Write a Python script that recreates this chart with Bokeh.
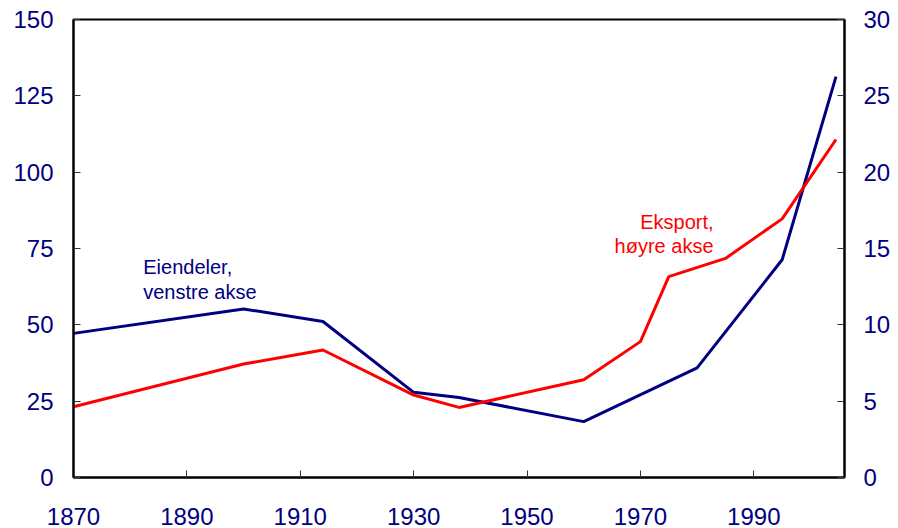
from bokeh.plotting import figure
from bokeh.models import Range1d, LinearAxis, FixedTicker, Label
from bokeh.embed import file_html
from bokeh.resources import INLINE

# Eiendeler (venstre akse)
years_assets = [1870, 1900, 1914, 1930, 1938, 1960, 1980, 1995, 2004.5]
assets = [47.2, 55.2, 51.1, 27.9, 26.2, 18.3, 35.9, 71.3, 131.3]

# Eksport (høyre akse)
years_export = [1870, 1900, 1914, 1930, 1938, 1960, 1970, 1975, 1985, 1995, 2004.5]
export = [4.63, 7.43, 8.35, 5.4, 4.59, 6.4, 8.9, 13.16, 14.35, 16.94, 22.14]

x_ticks = [1870, 1890, 1910, 1930, 1950, 1970, 1990]
left_ticks = [0, 25, 50, 75, 100, 125, 150]
right_ticks = [0, 5, 10, 15, 20, 25, 30]

NAVY = "#000080"
RED = "#ff0000"
FONT = "Liberation Sans"

p = figure(width=898, height=528, output_backend="svg", toolbar_location=None,
           x_range=Range1d(1870, 2006), y_range=Range1d(0, 150),
           min_border_left=73, min_border_right=54, min_border_top=19, min_border_bottom=51)
p.extra_y_ranges = {"right": Range1d(0, 30)}
p.xgrid.visible = False
p.ygrid.visible = False
p.outline_line_color = "black"
p.outline_line_width = 2
p.background_fill_color = "white"
p.border_fill_color = "white"

right_axis = LinearAxis(y_range_name="right")
p.add_layout(right_axis, "right")

p.xaxis.ticker = FixedTicker(ticks=x_ticks)
p.yaxis[0].ticker = FixedTicker(ticks=left_ticks)
right_axis.ticker = FixedTicker(ticks=right_ticks)

for ax in [p.xaxis[0], p.yaxis[0], right_axis]:
    ax.axis_line_color = "black"
    ax.axis_line_width = 2
    ax.major_tick_in = 7
    ax.major_tick_out = 0
    ax.major_tick_line_color = "#333333"
    ax.minor_tick_in = 0
    ax.minor_tick_out = 0
    ax.major_label_text_font = FONT
    ax.major_label_text_font_size = "24px"
    ax.major_label_text_color = NAVY

p.xaxis[0].major_label_standoff = 30
p.yaxis[0].major_label_standoff = 20
right_axis.major_label_standoff = 19

p.line(years_assets, assets, line_color=NAVY, line_width=3)
p.line(years_export, export, line_color=RED, line_width=3, y_range_name="right")

ann = [
    ("Eiendeler,", 1882.3, 68.8, NAVY, "left"),
    ("venstre akse", 1882.3, 60.9, NAVY, "left"),
    ("Eksport,", 1982.9, 83.6, RED, "right"),
    ("høyre akse", 1982.9, 75.7, RED, "right"),
]
for t, x, y, c, al in ann:
    p.add_layout(Label(x=x, y=y, text=t, text_color=c, text_font=FONT,
                       text_font_size="20px", text_align=al, text_baseline="alphabetic"))

open("out.html", "w").write(file_html(p, INLINE))
